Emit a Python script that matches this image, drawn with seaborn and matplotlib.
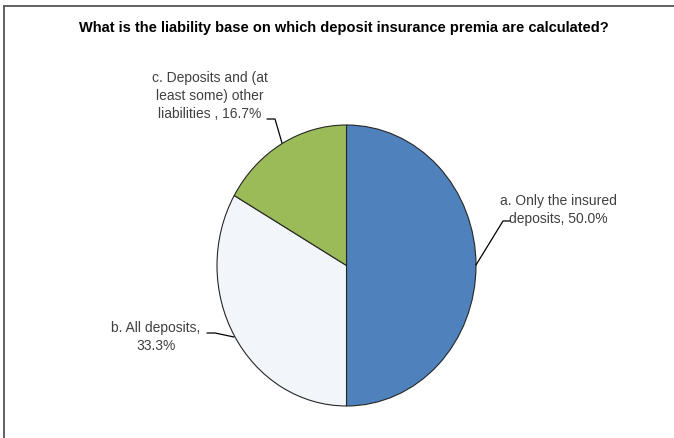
import matplotlib
matplotlib.use("Agg")
import matplotlib.pyplot as plt
import seaborn as sns
from matplotlib.lines import Line2D

categories = ["a. Only the insured\ndeposits, 50.0%",
              "b. All deposits,\n33.3%",
              "c. Deposits and (at\nleast some) other\nliabilities , 16.7%"]
values = [50.0, 33.3, 16.7]
colors = ["#4F81BD", "#F2F6FA", "#9BBB59"]
title = "What is the liability base on which deposit insurance premia are calculated?"

sns.set_theme(style="white")
plt.rcParams['font.family'] = ['Liberation Sans', 'DejaVu Sans']

W, H = 674, 438
fig = plt.figure(figsize=(W / 100, H / 100), dpi=100)

# pie ellipse in pixels: x 217..476, y 125..406
cx, cy, rx, ry = 346.5, 265.5, 129.5, 140.5
ax = fig.add_axes([(cx - rx) / W, (H - (cy + ry)) / H, 2 * rx / W, 2 * ry / H])
ax.pie(values, colors=colors, startangle=90, counterclock=False,
       wedgeprops=dict(edgecolor="#262626", linewidth=0.8))
ax.set_aspect('auto')
ax.set_xlim(-1, 1)
ax.set_ylim(-1, 1)
ax.axis('off')


def d(px, py):
    return ((px - cx) / rx, (cy - py) / ry)


txt = dict(color="#404040", fontsize=10, ha="center", va="center",
           linespacing=1.4)
# label positions (pixels) and leader polylines
label_pos = [(558, 210), (156, 337), (210, 96)]
leaders = [[(476, 265), (503, 221), (510, 221)],
           [(207, 333), (215, 333), (234, 337)],
           [(267, 119), (275, 119), (282, 143)]]
for lab, (px, py), pts in zip(categories, label_pos, leaders):
    x, y = d(px, py)
    ax.text(x, y, lab, **txt)
    xs, ys = zip(*[d(*p) for p in pts])
    ax.plot(xs, ys, color="#000000", lw=0.9, clip_on=False)

fig.text(344 / W, 1 - 28 / H, title, ha="center", va="center",
         fontsize=10.5, fontweight="bold", color="#000000")

# outer frame (top and left edges visible)
fig.add_artist(Line2D([4 / W, 1.0], [1 - 6 / H, 1 - 6 / H], transform=fig.transFigure,
                      color="#555555", lw=1.3))
fig.add_artist(Line2D([4 / W, 4 / W], [0, 1 - 6 / H], transform=fig.transFigure,
                      color="#555555", lw=1.3))

fig.savefig("out.png", dpi=100)
